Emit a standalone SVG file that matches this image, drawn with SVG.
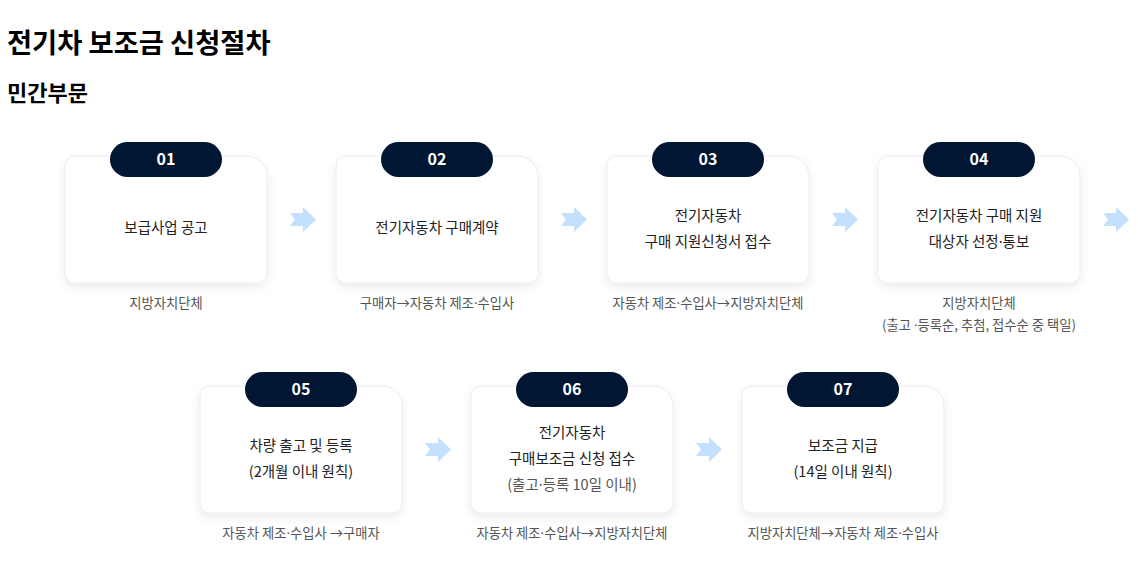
<svg xmlns="http://www.w3.org/2000/svg" xmlns:xlink="http://www.w3.org/1999/xlink" width="1138" height="579" viewBox="0 0 1138 579">
<style>
text{font-family:"Noto Sans CJK KR","Noto Sans",sans-serif;}
.d{font-family:"Noto Sans",sans-serif;}
.title{font-size:27.3px;font-weight:700;fill:#000;}
.sub{font-size:22px;font-weight:700;fill:#000;}
.card{fill:#fff;stroke:#ececec;stroke-width:1;filter:url(#sh);}
.badge{fill:#001633;}
.num{font-size:16px;font-weight:700;fill:#fff;text-anchor:middle;}
.ct{font-size:14.5px;fill:#222;text-anchor:middle;}
.cg{font-size:14.5px;fill:#555;text-anchor:middle;}
.lb{font-size:13.3px;fill:#555;text-anchor:middle;}
.arr{fill:#c4e0ff;}
</style>
<defs>
<filter id="sh" x="-20%" y="-20%" width="140%" height="150%">
<feDropShadow dx="0" dy="4" stdDeviation="5" flood-color="#000" flood-opacity="0.08"/>
</filter>
<path id="cardShape" d="M10,0 H182 A20,20 0 0 1 202,20 V117 A10,10 0 0 1 192,127 H10 A10,10 0 0 1 0,117 V10 A10,10 0 0 1 10,0 Z"/>
</defs>
<rect width="1138" height="579" fill="#fff"/>
<text class="title" x="7" y="53">전기차 보조금 신청절차</text>
<text class="sub" x="7" y="101">민간부문</text>

<g id="connectors">
<path class="arr" d="M290,213 H303 V207 L316,219.5 L303,232 V226 H290 L295,219.5 Z"/>
<path class="arr" d="M561,213 H574 V207 L587,219.5 L574,232 V226 H561 L566,219.5 Z"/>
<path class="arr" d="M832,213 H845 V207 L858,219.5 L845,232 V226 H832 L837,219.5 Z"/>
<path class="arr" d="M1103,213 H1116 V207 L1129,219.5 L1116,232 V226 H1103 L1108,219.5 Z"/>
<path class="arr" d="M425,443 H438 V437 L451,449.5 L438,462 V456 H425 L430,449.5 Z"/>
<path class="arr" d="M696,443 H709 V437 L722,449.5 L709,462 V456 H696 L701,449.5 Z"/>
</g>

<g id="step01" transform="translate(65,156)">
<use xlink:href="#cardShape" class="card"/>
<rect class="badge" x="45" y="-14" width="112" height="35" rx="17.5"/>
<text class="num" x="101" y="9">01</text>
<text class="ct" x="101" y="77">보급사업 공고</text>
<text class="lb" x="101" y="152">지방자치단체</text>
</g>

<g id="step02" transform="translate(336,156)">
<use xlink:href="#cardShape" class="card"/>
<rect class="badge" x="45" y="-14" width="112" height="35" rx="17.5"/>
<text class="num" x="101" y="9">02</text>
<text class="ct" x="101" y="77">전기자동차 구매계약</text>
<text class="lb" x="101" y="152">구매자→자동차 제조<tspan class="d">·</tspan>수입사</text>
</g>

<g id="step03" transform="translate(607,156)">
<use xlink:href="#cardShape" class="card"/>
<rect class="badge" x="45" y="-14" width="112" height="35" rx="17.5"/>
<text class="num" x="101" y="9">03</text>
<text class="ct" x="101" y="65">전기자동차</text>
<text class="ct" x="101" y="91">구매 지원신청서 접수</text>
<text class="lb" x="101" y="152">자동차 제조<tspan class="d">·</tspan>수입사→지방자치단체</text>
</g>

<g id="step04" transform="translate(878,156)">
<use xlink:href="#cardShape" class="card"/>
<rect class="badge" x="45" y="-14" width="112" height="35" rx="17.5"/>
<text class="num" x="101" y="9">04</text>
<text class="ct" x="101" y="65">전기자동차 구매 지원</text>
<text class="ct" x="101" y="91">대상자 선정<tspan class="d">·</tspan>통보</text>
<text class="lb" x="101" y="152">지방자치단체</text>
<text class="lb" x="101" y="174">(출고 <tspan class="d">·</tspan>등록순, 추첨, 접수순 중 택일)</text>
</g>

<g id="step05" transform="translate(200,386)">
<use xlink:href="#cardShape" class="card"/>
<rect class="badge" x="45" y="-14" width="112" height="35" rx="17.5"/>
<text class="num" x="101" y="9">05</text>
<text class="ct" x="101" y="65">차량 출고 및 등록</text>
<text class="ct" x="101" y="91">(2개월 이내 원칙)</text>
<text class="lb" x="101" y="152">자동차 제조<tspan class="d">·</tspan>수입사 →구매자</text>
</g>

<g id="step06" transform="translate(471,386)">
<use xlink:href="#cardShape" class="card"/>
<rect class="badge" x="45" y="-14" width="112" height="35" rx="17.5"/>
<text class="num" x="101" y="9">06</text>
<text class="ct" x="101" y="52">전기자동차</text>
<text class="ct" x="101" y="78">구매보조금 신청 접수</text>
<text class="cg" x="101" y="104">(출고<tspan class="d">·</tspan>등록 10일 이내)</text>
<text class="lb" x="101" y="152">자동차 제조<tspan class="d">·</tspan>수입사→지방자치단체</text>
</g>

<g id="step07" transform="translate(742,386)">
<use xlink:href="#cardShape" class="card"/>
<rect class="badge" x="45" y="-14" width="112" height="35" rx="17.5"/>
<text class="num" x="101" y="9">07</text>
<text class="ct" x="101" y="65">보조금 지급</text>
<text class="ct" x="101" y="91">(14일 이내 원칙)</text>
<text class="lb" x="101" y="152">지방자치단체→자동차 제조<tspan class="d">·</tspan>수입사</text>
</g>
</svg>
